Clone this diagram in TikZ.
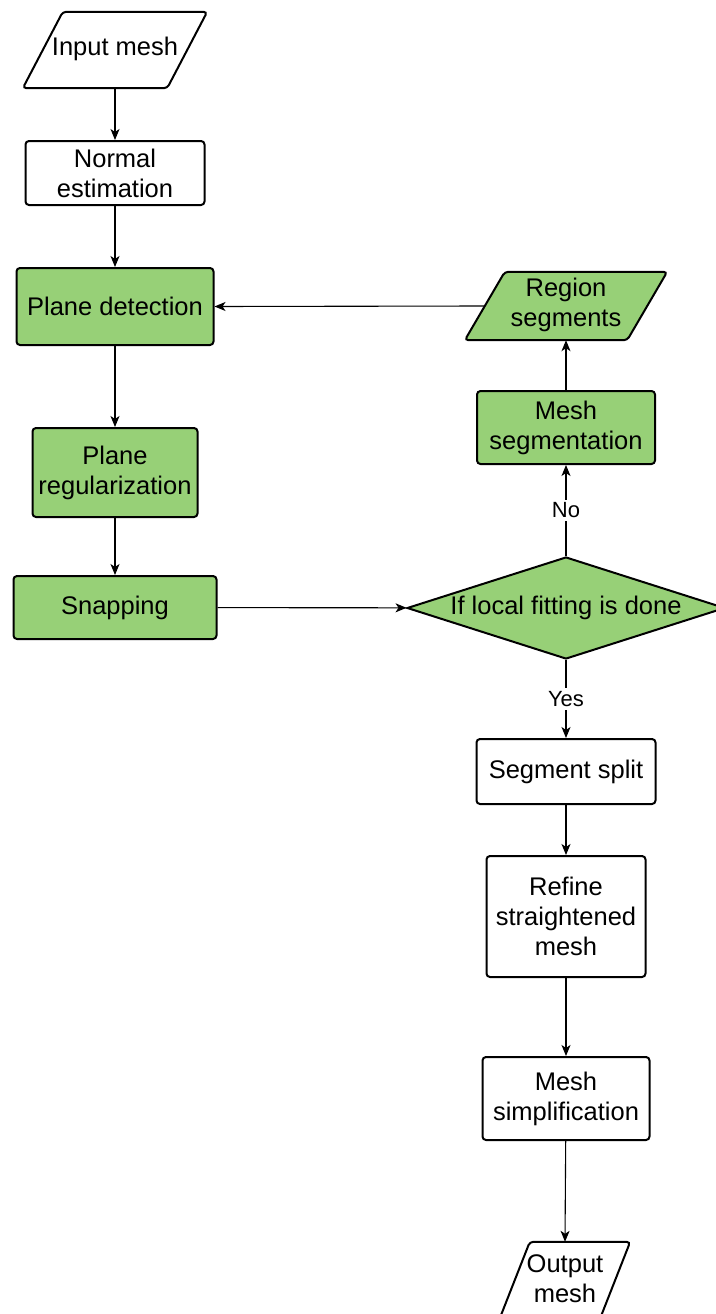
\documentclass[tikz,border=0pt]{standalone}
\usepackage{fontspec}
\setmainfont{Liberation Sans}
\usetikzlibrary{shapes.geometric,arrows.meta}
\definecolor{boxgreen}{HTML}{97D077}
\begin{document}
\begin{tikzpicture}[x=1pt,y=-1pt,
  every node/.style={font=\fontsize{25.5}{30}\selectfont, align=center, inner sep=0pt},
  box/.style={draw, line width=2pt, rounded corners=3.5pt},
  greenbox/.style={box, fill=boxgreen},
  arrow/.style={-{Stealth[length=11pt,width=9pt,inset=3pt]}, line width=1.1pt},
  lbl/.style={fill=white, font=\fontsize{22}{26}\selectfont, inner sep=3pt}
]
\useasboundingbox (0,0) rectangle (715,1314);

% left column
\node[minimum width=144pt, minimum height=76pt] (in) at (115,49) {Input mesh};
\draw[box] ([xshift=-20pt,yshift=-1pt]in.south west) -- ([xshift=20pt,yshift=-1pt]in.north west)
  -- ([xshift=20pt,yshift=-1pt]in.north east) -- ([xshift=-20pt,yshift=-1pt]in.south east) -- cycle;
\node[box, minimum width=179pt, minimum height=64pt] (ne) at (115,173) {Normal\\estimation};
\node[greenbox, minimum width=197pt, minimum height=77pt] (pd) at (115,306.5) {Plane detection};
\node[greenbox, minimum width=165pt, minimum height=89pt] (pr) at (115,472.5) {Plane\\regularization};
\node[greenbox, minimum width=203pt, minimum height=63pt] (sn) at (115,607.5) {Snapping};

% right column
\node[minimum width=162pt, minimum height=68pt] (rs) at (566,306) {};
\draw[greenbox] ([xshift=-20pt]rs.south west) -- ([xshift=20pt]rs.north west)
  -- ([xshift=20pt]rs.north east) -- ([xshift=-20pt]rs.south east) -- cycle;
\node (rstext) at ([yshift=1.5pt]rs.center) {Region\\segments};
\node[greenbox, minimum width=178pt, minimum height=73pt] (ms) at (566,427.5) {Mesh\\segmentation};
\node[diamond, draw, fill=boxgreen, line width=2pt, aspect=3.12,
      minimum width=318pt, minimum height=102pt] (dec) at (566,608) {If local fitting is done};
\node[box, minimum width=179pt, minimum height=65pt] (ss) at (566,771.5) {Segment split};
\node[box, minimum width=159pt, minimum height=121pt] (rf) at (566,916.5) {Refine\\straightened\\mesh};
\node[box, minimum width=167pt, minimum height=83pt] (sm) at (566,1098.5) {Mesh\\simplification};
\node[minimum width=100pt, minimum height=76pt] (out) at (565,1279) {Output\\mesh};
\draw[box] ([xshift=-15pt,yshift=-1pt]out.south west) -- ([xshift=15pt,yshift=-1pt]out.north west)
  -- ([xshift=15pt,yshift=-1pt]out.north east) -- ([xshift=-15pt,yshift=-1pt]out.south east) -- cycle;

% connectors
\draw[arrow] ([yshift=-1pt]in.south) -- (ne);
\draw[arrow] (ne) -- (pd);
\draw[arrow] (pd) -- (pr);
\draw[arrow] (pr) -- (sn);
\draw[arrow] (sn) -- (dec);
\draw[arrow] (dec) -- node[lbl] {No} (ms);
\draw[arrow] (ms) -- (rs);
\draw[arrow] (rs.west) -- (pd.east);
\draw[arrow] (dec) -- node[lbl] {Yes} (ss);
\draw[arrow] (ss) -- (rf);
\draw[arrow] (rf) -- (sm);
\draw[arrow] (sm) -- ([yshift=-1pt]out.north);
\end{tikzpicture}
\end{document}
